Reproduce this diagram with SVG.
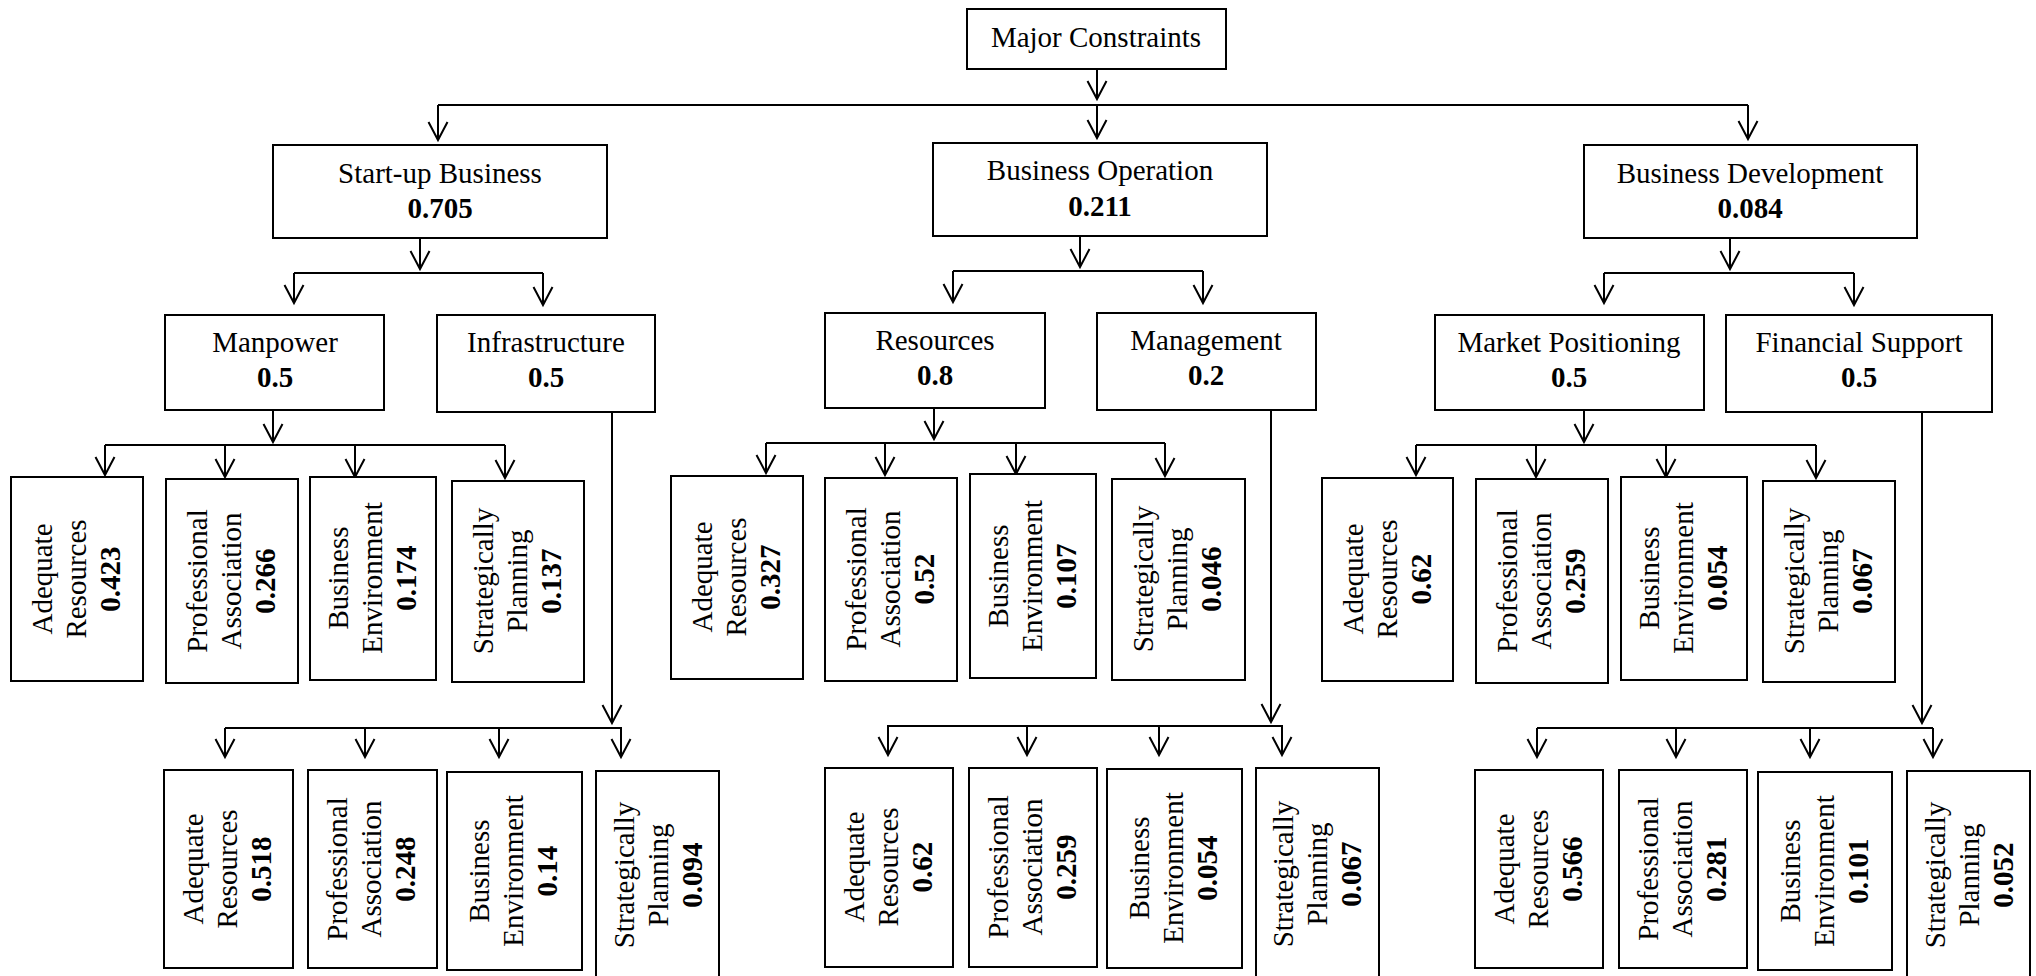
<svg xmlns="http://www.w3.org/2000/svg" width="2036" height="976" viewBox="0 0 2036 976">
<style>
.box{fill:#fff;stroke:#000;stroke-width:2}
.t{font-family:"Liberation Serif","Times New Roman",serif;font-size:29px;fill:#000;text-anchor:middle}
.b{font-weight:bold}
.c{fill:none;stroke:#000;stroke-width:2}
</style>
<defs>
<marker id="ah" markerUnits="userSpaceOnUse" markerWidth="24" markerHeight="24" viewBox="-20 -12 24 24" refX="0" refY="0" orient="auto" overflow="visible">
<path d="M-18,-9.5 L0,0 L-18,9.5" fill="none" stroke="#000" stroke-width="2"/>
</marker>
</defs>
<rect width="2036" height="976" fill="#fff"/>
<g id="connectors">
<path class="c" d="M1097,69 V99" marker-end="url(#ah)"/>
<path class="c" d="M438,105 H1748"/>
<path class="c" d="M438,105 V140" marker-end="url(#ah)"/>
<path class="c" d="M1097,105 V138" marker-end="url(#ah)"/>
<path class="c" d="M1748,105 V139" marker-end="url(#ah)"/>

<path class="c" d="M420,238 V269" marker-end="url(#ah)"/>
<path class="c" d="M294,273 H543"/>
<path class="c" d="M294,273 V303" marker-end="url(#ah)"/>
<path class="c" d="M543,273 V305" marker-end="url(#ah)"/>

<path class="c" d="M1080,236 V267" marker-end="url(#ah)"/>
<path class="c" d="M953,271 H1203"/>
<path class="c" d="M953,271 V302" marker-end="url(#ah)"/>
<path class="c" d="M1203,271 V303" marker-end="url(#ah)"/>

<path class="c" d="M1730,238 V269" marker-end="url(#ah)"/>
<path class="c" d="M1604,273 H1854"/>
<path class="c" d="M1604,273 V303" marker-end="url(#ah)"/>
<path class="c" d="M1854,273 V305" marker-end="url(#ah)"/>

<path class="c" d="M273,410 V442" marker-end="url(#ah)"/>
<path class="c" d="M105,445 H505"/>
<path class="c" d="M105,445 V475" marker-end="url(#ah)"/>
<path class="c" d="M225,445 V477" marker-end="url(#ah)"/>
<path class="c" d="M355,445 V477" marker-end="url(#ah)"/>
<path class="c" d="M505,445 V478" marker-end="url(#ah)"/>

<path class="c" d="M612,412 V723" marker-end="url(#ah)"/>
<path class="c" d="M225,728 H622"/>
<path class="c" d="M225,728 V757" marker-end="url(#ah)"/>
<path class="c" d="M365,728 V757" marker-end="url(#ah)"/>
<path class="c" d="M499,728 V757" marker-end="url(#ah)"/>
<path class="c" d="M621,728 V757" marker-end="url(#ah)"/>

<path class="c" d="M934,408 V439" marker-end="url(#ah)"/>
<path class="c" d="M766,443 H1165"/>
<path class="c" d="M766,443 V473" marker-end="url(#ah)"/>
<path class="c" d="M885,443 V475" marker-end="url(#ah)"/>
<path class="c" d="M1016,443 V474" marker-end="url(#ah)"/>
<path class="c" d="M1165,443 V476" marker-end="url(#ah)"/>

<path class="c" d="M1271,410 V722" marker-end="url(#ah)"/>
<path class="c" d="M887,726 H1283"/>
<path class="c" d="M888,726 V755" marker-end="url(#ah)"/>
<path class="c" d="M1027,726 V755" marker-end="url(#ah)"/>
<path class="c" d="M1159,726 V755" marker-end="url(#ah)"/>
<path class="c" d="M1282,726 V755" marker-end="url(#ah)"/>

<path class="c" d="M1584,410 V442" marker-end="url(#ah)"/>
<path class="c" d="M1416,445 H1816"/>
<path class="c" d="M1416,445 V475" marker-end="url(#ah)"/>
<path class="c" d="M1536,445 V477" marker-end="url(#ah)"/>
<path class="c" d="M1666,445 V477" marker-end="url(#ah)"/>
<path class="c" d="M1816,445 V478" marker-end="url(#ah)"/>

<path class="c" d="M1922,412 V723" marker-end="url(#ah)"/>
<path class="c" d="M1537,728 H1933"/>
<path class="c" d="M1537,728 V757" marker-end="url(#ah)"/>
<path class="c" d="M1676,728 V757" marker-end="url(#ah)"/>
<path class="c" d="M1810,728 V757" marker-end="url(#ah)"/>
<path class="c" d="M1933,728 V757" marker-end="url(#ah)"/>
</g>

<g id="major-constraints"><rect class="box" x="967" y="9" width="259" height="60"/><text class="t" x="1096" y="47">Major Constraints</text></g>

<g id="startup-business"><rect class="box" x="273" y="145" width="334" height="93"/><text class="t" x="440" y="183">Start-up Business</text><text class="t b" x="440" y="218">0.705</text></g>
<g id="business-operation"><rect class="box" x="933" y="143" width="334" height="93"/><text class="t" x="1100" y="180">Business Operation</text><text class="t b" x="1100" y="216">0.211</text></g>
<g id="business-development"><rect class="box" x="1584" y="145" width="333" height="93"/><text class="t" x="1750" y="183">Business Development</text><text class="t b" x="1750" y="218">0.084</text></g>

<g id="manpower"><rect class="box" x="165" y="315" width="219" height="95"/><text class="t" x="275" y="352">Manpower</text><text class="t b" x="275" y="387">0.5</text></g>
<g id="infrastructure"><rect class="box" x="437" y="315" width="218" height="97"/><text class="t" x="546" y="352">Infrastructure</text><text class="t b" x="546" y="387">0.5</text></g>
<g id="resources"><rect class="box" x="825" y="313" width="220" height="95"/><text class="t" x="935" y="350">Resources</text><text class="t b" x="935" y="385">0.8</text></g>
<g id="management"><rect class="box" x="1097" y="313" width="219" height="97"/><text class="t" x="1206" y="350">Management</text><text class="t b" x="1206" y="385">0.2</text></g>
<g id="market-positioning"><rect class="box" x="1435" y="315" width="269" height="95"/><text class="t" x="1569" y="352">Market Positioning</text><text class="t b" x="1569" y="387">0.5</text></g>
<g id="financial-support"><rect class="box" x="1726" y="315" width="266" height="97"/><text class="t" x="1859" y="352">Financial Support</text><text class="t b" x="1859" y="387">0.5</text></g>

<!-- Manpower leaves -->
<g id="mp-ar"><rect class="box" x="11" y="477" width="132" height="204"/><text class="t" transform="translate(77,579) rotate(-90)"><tspan x="0" y="-25">Adequate</tspan><tspan x="0" y="9">Resources</tspan><tspan x="0" y="43" class="b">0.423</tspan></text></g>
<g id="mp-pa"><rect class="box" x="166" y="479" width="132" height="204"/><text class="t" transform="translate(232,581) rotate(-90)"><tspan x="0" y="-25">Professional</tspan><tspan x="0" y="9">Association</tspan><tspan x="0" y="43" class="b">0.266</tspan></text></g>
<g id="mp-be"><rect class="box" x="310" y="477" width="126" height="203"/><text class="t" transform="translate(373,578) rotate(-90)"><tspan x="0" y="-25">Business</tspan><tspan x="0" y="9">Environment</tspan><tspan x="0" y="43" class="b">0.174</tspan></text></g>
<g id="mp-sp"><rect class="box" x="452" y="481" width="132" height="201"/><text class="t" transform="translate(518,581) rotate(-90)"><tspan x="0" y="-25">Strategically</tspan><tspan x="0" y="9">Planning</tspan><tspan x="0" y="43" class="b">0.137</tspan></text></g>

<!-- Infrastructure leaves -->
<g id="in-ar"><rect class="box" x="164" y="770" width="129" height="198"/><text class="t" transform="translate(228,869) rotate(-90)"><tspan x="0" y="-25">Adequate</tspan><tspan x="0" y="9">Resources</tspan><tspan x="0" y="43" class="b">0.518</tspan></text></g>
<g id="in-pa"><rect class="box" x="308" y="770" width="129" height="198"/><text class="t" transform="translate(372,869) rotate(-90)"><tspan x="0" y="-25">Professional</tspan><tspan x="0" y="9">Association</tspan><tspan x="0" y="43" class="b">0.248</tspan></text></g>
<g id="in-be"><rect class="box" x="447" y="772" width="135" height="198"/><text class="t" transform="translate(514,871) rotate(-90)"><tspan x="0" y="-25">Business</tspan><tspan x="0" y="9">Environment</tspan><tspan x="0" y="43" class="b">0.14</tspan></text></g>
<g id="in-sp"><rect class="box" x="596" y="771" width="123" height="209"/><text class="t" transform="translate(659,875) rotate(-90)"><tspan x="0" y="-25">Strategically</tspan><tspan x="0" y="9">Planning</tspan><tspan x="0" y="43" class="b">0.094</tspan></text></g>

<!-- Resources leaves -->
<g id="rs-ar"><rect class="box" x="671" y="476" width="132" height="203"/><text class="t" transform="translate(737,577) rotate(-90)"><tspan x="0" y="-25">Adequate</tspan><tspan x="0" y="9">Resources</tspan><tspan x="0" y="43" class="b">0.327</tspan></text></g>
<g id="rs-pa"><rect class="box" x="825" y="478" width="132" height="203"/><text class="t" transform="translate(891,579) rotate(-90)"><tspan x="0" y="-25">Professional</tspan><tspan x="0" y="9">Association</tspan><tspan x="0" y="43" class="b">0.52</tspan></text></g>
<g id="rs-be"><rect class="box" x="970" y="474" width="126" height="204"/><text class="t" transform="translate(1033,576) rotate(-90)"><tspan x="0" y="-25">Business</tspan><tspan x="0" y="9">Environment</tspan><tspan x="0" y="43" class="b">0.107</tspan></text></g>
<g id="rs-sp"><rect class="box" x="1112" y="479" width="133" height="201"/><text class="t" transform="translate(1178,579) rotate(-90)"><tspan x="0" y="-25">Strategically</tspan><tspan x="0" y="9">Planning</tspan><tspan x="0" y="43" class="b">0.046</tspan></text></g>

<!-- Management leaves -->
<g id="mg-ar"><rect class="box" x="825" y="768" width="128" height="199"/><text class="t" transform="translate(889,867) rotate(-90)"><tspan x="0" y="-25">Adequate</tspan><tspan x="0" y="9">Resources</tspan><tspan x="0" y="43" class="b">0.62</tspan></text></g>
<g id="mg-pa"><rect class="box" x="969" y="768" width="128" height="199"/><text class="t" transform="translate(1033,867) rotate(-90)"><tspan x="0" y="-25">Professional</tspan><tspan x="0" y="9">Association</tspan><tspan x="0" y="43" class="b">0.259</tspan></text></g>
<g id="mg-be"><rect class="box" x="1107" y="769" width="135" height="199"/><text class="t" transform="translate(1174,868) rotate(-90)"><tspan x="0" y="-25">Business</tspan><tspan x="0" y="9">Environment</tspan><tspan x="0" y="43" class="b">0.054</tspan></text></g>
<g id="mg-sp"><rect class="box" x="1256" y="768" width="123" height="212"/><text class="t" transform="translate(1318,874) rotate(-90)"><tspan x="0" y="-25">Strategically</tspan><tspan x="0" y="9">Planning</tspan><tspan x="0" y="43" class="b">0.067</tspan></text></g>

<!-- Market Positioning leaves -->
<g id="mk-ar"><rect class="box" x="1322" y="478" width="131" height="203"/><text class="t" transform="translate(1388,579) rotate(-90)"><tspan x="0" y="-25">Adequate</tspan><tspan x="0" y="9">Resources</tspan><tspan x="0" y="43" class="b">0.62</tspan></text></g>
<g id="mk-pa"><rect class="box" x="1476" y="479" width="132" height="204"/><text class="t" transform="translate(1542,581) rotate(-90)"><tspan x="0" y="-25">Professional</tspan><tspan x="0" y="9">Association</tspan><tspan x="0" y="43" class="b">0.259</tspan></text></g>
<g id="mk-be"><rect class="box" x="1621" y="477" width="126" height="203"/><text class="t" transform="translate(1684,578) rotate(-90)"><tspan x="0" y="-25">Business</tspan><tspan x="0" y="9">Environment</tspan><tspan x="0" y="43" class="b">0.054</tspan></text></g>
<g id="mk-sp"><rect class="box" x="1763" y="481" width="132" height="201"/><text class="t" transform="translate(1829,581) rotate(-90)"><tspan x="0" y="-25">Strategically</tspan><tspan x="0" y="9">Planning</tspan><tspan x="0" y="43" class="b">0.067</tspan></text></g>

<!-- Financial Support leaves -->
<g id="fs-ar"><rect class="box" x="1475" y="770" width="128" height="198"/><text class="t" transform="translate(1539,869) rotate(-90)"><tspan x="0" y="-25">Adequate</tspan><tspan x="0" y="9">Resources</tspan><tspan x="0" y="43" class="b">0.566</tspan></text></g>
<g id="fs-pa"><rect class="box" x="1619" y="770" width="128" height="198"/><text class="t" transform="translate(1683,869) rotate(-90)"><tspan x="0" y="-25">Professional</tspan><tspan x="0" y="9">Association</tspan><tspan x="0" y="43" class="b">0.281</tspan></text></g>
<g id="fs-be"><rect class="box" x="1758" y="772" width="134" height="198"/><text class="t" transform="translate(1825,871) rotate(-90)"><tspan x="0" y="-25">Business</tspan><tspan x="0" y="9">Environment</tspan><tspan x="0" y="43" class="b">0.101</tspan></text></g>
<g id="fs-sp"><rect class="box" x="1907" y="771" width="123" height="209"/><text class="t" transform="translate(1970,875) rotate(-90)"><tspan x="0" y="-25">Strategically</tspan><tspan x="0" y="9">Planning</tspan><tspan x="0" y="43" class="b">0.052</tspan></text></g>
</svg>
